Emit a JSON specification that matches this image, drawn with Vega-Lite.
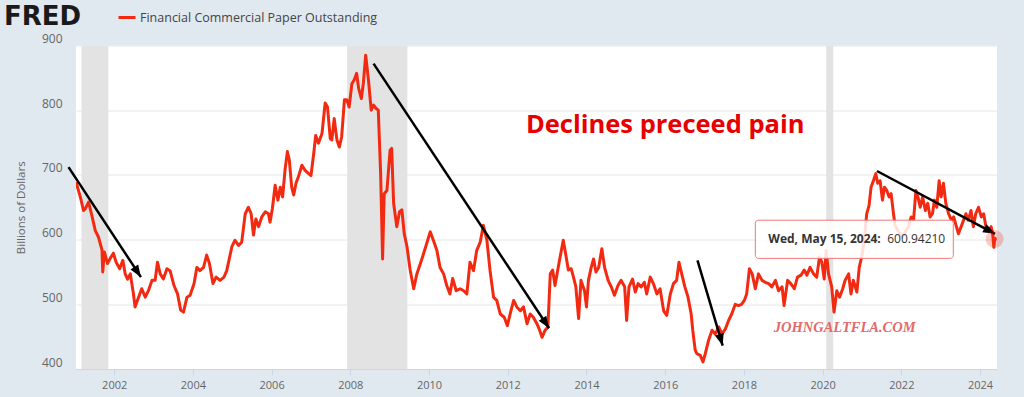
{
  "$schema": "https://vega.github.io/schema/vega-lite/v6.json",
  "width": 921,
  "height": 323.5,
  "autosize": {"type": "none"},
  "padding": {"left": 76, "top": 45.5, "right": 27, "bottom": 28},
  "background": "#e1e9f0",
  "view": {"fill": "white", "stroke": null},
  "title": {"text": "FRED", "anchor": "start", "frame": "group", "font": "DejaVu Sans", "fontSize": 26, "fontWeight": "bold", "color": "#1a1a1a", "baseline": "alphabetic", "offset": 0, "dx": -72, "dy": 43.5},
  "datasets": {
    "series": [
      {"year": 2001.03, "value": 689}, {"year": 2001.14, "value": 666}, {"year": 2001.22, "value": 645}, {"year": 2001.26, "value": 647},
      {"year": 2001.35, "value": 658}, {"year": 2001.43, "value": 638}, {"year": 2001.52, "value": 614}, {"year": 2001.60, "value": 604},
      {"year": 2001.69, "value": 584}, {"year": 2001.71, "value": 550}, {"year": 2001.75, "value": 581}, {"year": 2001.83, "value": 563},
      {"year": 2001.90, "value": 571}, {"year": 2001.98, "value": 579}, {"year": 2002.05, "value": 565}, {"year": 2002.14, "value": 555},
      {"year": 2002.22, "value": 568}, {"year": 2002.28, "value": 547}, {"year": 2002.34, "value": 539}, {"year": 2002.41, "value": 547},
      {"year": 2002.49, "value": 516}, {"year": 2002.53, "value": 496}, {"year": 2002.62, "value": 511}, {"year": 2002.70, "value": 524},
      {"year": 2002.79, "value": 511}, {"year": 2002.87, "value": 521}, {"year": 2002.96, "value": 537}, {"year": 2003.04, "value": 537},
      {"year": 2003.10, "value": 565}, {"year": 2003.17, "value": 547}, {"year": 2003.25, "value": 539}, {"year": 2003.34, "value": 555},
      {"year": 2003.42, "value": 552}, {"year": 2003.52, "value": 529}, {"year": 2003.61, "value": 516}, {"year": 2003.69, "value": 491},
      {"year": 2003.76, "value": 488}, {"year": 2003.85, "value": 511}, {"year": 2003.93, "value": 514}, {"year": 2004.03, "value": 532},
      {"year": 2004.10, "value": 557}, {"year": 2004.18, "value": 552}, {"year": 2004.27, "value": 557}, {"year": 2004.35, "value": 576},
      {"year": 2004.42, "value": 563}, {"year": 2004.51, "value": 532}, {"year": 2004.59, "value": 542}, {"year": 2004.69, "value": 537},
      {"year": 2004.79, "value": 542}, {"year": 2004.86, "value": 552}, {"year": 2004.99, "value": 589}, {"year": 2005.07, "value": 599},
      {"year": 2005.16, "value": 591}, {"year": 2005.24, "value": 596}, {"year": 2005.33, "value": 640}, {"year": 2005.41, "value": 650},
      {"year": 2005.48, "value": 640}, {"year": 2005.54, "value": 607}, {"year": 2005.60, "value": 632}, {"year": 2005.67, "value": 620},
      {"year": 2005.75, "value": 635}, {"year": 2005.84, "value": 643}, {"year": 2005.92, "value": 640}, {"year": 2005.96, "value": 627},
      {"year": 2006.02, "value": 648}, {"year": 2006.09, "value": 684}, {"year": 2006.16, "value": 661}, {"year": 2006.22, "value": 681},
      {"year": 2006.28, "value": 666}, {"year": 2006.34, "value": 707}, {"year": 2006.40, "value": 736}, {"year": 2006.45, "value": 723},
      {"year": 2006.51, "value": 681}, {"year": 2006.56, "value": 669}, {"year": 2006.62, "value": 687}, {"year": 2006.68, "value": 697},
      {"year": 2006.77, "value": 715}, {"year": 2006.85, "value": 707}, {"year": 2006.94, "value": 702}, {"year": 2007.00, "value": 699},
      {"year": 2007.07, "value": 733}, {"year": 2007.12, "value": 761}, {"year": 2007.19, "value": 749}, {"year": 2007.28, "value": 764},
      {"year": 2007.36, "value": 811}, {"year": 2007.42, "value": 805}, {"year": 2007.49, "value": 756}, {"year": 2007.53, "value": 754},
      {"year": 2007.59, "value": 787}, {"year": 2007.66, "value": 754}, {"year": 2007.72, "value": 743}, {"year": 2007.78, "value": 759},
      {"year": 2007.85, "value": 816}, {"year": 2007.91, "value": 816}, {"year": 2007.97, "value": 805}, {"year": 2008.04, "value": 841},
      {"year": 2008.10, "value": 847}, {"year": 2008.16, "value": 857}, {"year": 2008.21, "value": 834}, {"year": 2008.28, "value": 818},
      {"year": 2008.33, "value": 841}, {"year": 2008.39, "value": 885}, {"year": 2008.46, "value": 847}, {"year": 2008.53, "value": 800},
      {"year": 2008.59, "value": 808}, {"year": 2008.65, "value": 803}, {"year": 2008.71, "value": 800}, {"year": 2008.77, "value": 702},
      {"year": 2008.82, "value": 570}, {"year": 2008.86, "value": 671}, {"year": 2008.93, "value": 676}, {"year": 2009.01, "value": 738},
      {"year": 2009.05, "value": 741}, {"year": 2009.10, "value": 656}, {"year": 2009.18, "value": 620}, {"year": 2009.25, "value": 643},
      {"year": 2009.31, "value": 646}, {"year": 2009.37, "value": 609}, {"year": 2009.44, "value": 589}, {"year": 2009.52, "value": 553},
      {"year": 2009.61, "value": 524}, {"year": 2009.69, "value": 547}, {"year": 2009.78, "value": 563}, {"year": 2009.86, "value": 578},
      {"year": 2009.94, "value": 594}, {"year": 2010.03, "value": 612}, {"year": 2010.11, "value": 599}, {"year": 2010.20, "value": 583},
      {"year": 2010.28, "value": 557}, {"year": 2010.37, "value": 547}, {"year": 2010.45, "value": 529}, {"year": 2010.53, "value": 516},
      {"year": 2010.60, "value": 540}, {"year": 2010.69, "value": 521}, {"year": 2010.79, "value": 524}, {"year": 2010.88, "value": 521},
      {"year": 2010.96, "value": 516}, {"year": 2011.04, "value": 565}, {"year": 2011.13, "value": 552}, {"year": 2011.21, "value": 583},
      {"year": 2011.30, "value": 596}, {"year": 2011.38, "value": 622}, {"year": 2011.47, "value": 599}, {"year": 2011.55, "value": 552},
      {"year": 2011.64, "value": 511}, {"year": 2011.72, "value": 506}, {"year": 2011.81, "value": 485}, {"year": 2011.91, "value": 480},
      {"year": 2011.99, "value": 467}, {"year": 2012.08, "value": 490}, {"year": 2012.15, "value": 506}, {"year": 2012.23, "value": 496},
      {"year": 2012.32, "value": 490}, {"year": 2012.40, "value": 496}, {"year": 2012.49, "value": 470}, {"year": 2012.57, "value": 485},
      {"year": 2012.65, "value": 480}, {"year": 2012.74, "value": 470}, {"year": 2012.81, "value": 460}, {"year": 2012.87, "value": 449},
      {"year": 2012.95, "value": 460}, {"year": 2013.02, "value": 465}, {"year": 2013.08, "value": 547}, {"year": 2013.14, "value": 553},
      {"year": 2013.20, "value": 529}, {"year": 2013.27, "value": 553}, {"year": 2013.33, "value": 573}, {"year": 2013.41, "value": 599},
      {"year": 2013.47, "value": 578}, {"year": 2013.54, "value": 553}, {"year": 2013.61, "value": 555}, {"year": 2013.67, "value": 542},
      {"year": 2013.73, "value": 527}, {"year": 2013.80, "value": 478}, {"year": 2013.86, "value": 537}, {"year": 2013.95, "value": 521},
      {"year": 2014.00, "value": 496}, {"year": 2014.05, "value": 537}, {"year": 2014.12, "value": 557}, {"year": 2014.18, "value": 570},
      {"year": 2014.24, "value": 550}, {"year": 2014.31, "value": 557}, {"year": 2014.39, "value": 586}, {"year": 2014.46, "value": 557},
      {"year": 2014.55, "value": 537}, {"year": 2014.63, "value": 527}, {"year": 2014.71, "value": 514}, {"year": 2014.80, "value": 529},
      {"year": 2014.88, "value": 537}, {"year": 2014.97, "value": 527}, {"year": 2015.02, "value": 475}, {"year": 2015.08, "value": 527},
      {"year": 2015.17, "value": 539}, {"year": 2015.24, "value": 519}, {"year": 2015.31, "value": 532}, {"year": 2015.39, "value": 527},
      {"year": 2015.47, "value": 534}, {"year": 2015.53, "value": 516}, {"year": 2015.62, "value": 542}, {"year": 2015.70, "value": 532},
      {"year": 2015.79, "value": 516}, {"year": 2015.87, "value": 524}, {"year": 2015.96, "value": 490}, {"year": 2016.04, "value": 483},
      {"year": 2016.13, "value": 516}, {"year": 2016.21, "value": 532}, {"year": 2016.29, "value": 537}, {"year": 2016.35, "value": 565},
      {"year": 2016.42, "value": 547}, {"year": 2016.50, "value": 527}, {"year": 2016.58, "value": 511}, {"year": 2016.66, "value": 485},
      {"year": 2016.70, "value": 460}, {"year": 2016.76, "value": 430}, {"year": 2016.80, "value": 424}, {"year": 2016.89, "value": 421},
      {"year": 2016.96, "value": 411}, {"year": 2017.02, "value": 424}, {"year": 2017.10, "value": 444}, {"year": 2017.19, "value": 460},
      {"year": 2017.27, "value": 454}, {"year": 2017.36, "value": 465}, {"year": 2017.44, "value": 454}, {"year": 2017.53, "value": 462},
      {"year": 2017.61, "value": 475}, {"year": 2017.69, "value": 485}, {"year": 2017.78, "value": 500}, {"year": 2017.86, "value": 498},
      {"year": 2017.94, "value": 500}, {"year": 2018.01, "value": 506}, {"year": 2018.07, "value": 516}, {"year": 2018.14, "value": 555},
      {"year": 2018.21, "value": 547}, {"year": 2018.29, "value": 524}, {"year": 2018.37, "value": 547}, {"year": 2018.46, "value": 537},
      {"year": 2018.54, "value": 534}, {"year": 2018.63, "value": 532}, {"year": 2018.71, "value": 527}, {"year": 2018.80, "value": 537},
      {"year": 2018.88, "value": 521}, {"year": 2018.97, "value": 527}, {"year": 2019.02, "value": 498}, {"year": 2019.11, "value": 537},
      {"year": 2019.19, "value": 532}, {"year": 2019.28, "value": 524}, {"year": 2019.36, "value": 542}, {"year": 2019.45, "value": 545},
      {"year": 2019.53, "value": 553}, {"year": 2019.60, "value": 545}, {"year": 2019.68, "value": 557}, {"year": 2019.77, "value": 547},
      {"year": 2019.85, "value": 542}, {"year": 2019.92, "value": 573}, {"year": 2019.98, "value": 565}, {"year": 2020.04, "value": 539},
      {"year": 2020.09, "value": 583}, {"year": 2020.15, "value": 547}, {"year": 2020.23, "value": 527}, {"year": 2020.29, "value": 488},
      {"year": 2020.36, "value": 521}, {"year": 2020.43, "value": 511}, {"year": 2020.51, "value": 524}, {"year": 2020.57, "value": 537},
      {"year": 2020.66, "value": 547}, {"year": 2020.72, "value": 516}, {"year": 2020.78, "value": 537}, {"year": 2020.87, "value": 519},
      {"year": 2020.93, "value": 557}, {"year": 2020.99, "value": 573}, {"year": 2021.06, "value": 599}, {"year": 2021.12, "value": 640},
      {"year": 2021.18, "value": 653}, {"year": 2021.23, "value": 681}, {"year": 2021.29, "value": 691}, {"year": 2021.35, "value": 702},
      {"year": 2021.40, "value": 687}, {"year": 2021.46, "value": 691}, {"year": 2021.52, "value": 661}, {"year": 2021.57, "value": 681},
      {"year": 2021.63, "value": 676}, {"year": 2021.69, "value": 666}, {"year": 2021.74, "value": 671}, {"year": 2021.80, "value": 640},
      {"year": 2021.84, "value": 622}, {"year": 2021.91, "value": 614}, {"year": 2021.97, "value": 609}, {"year": 2022.03, "value": 604},
      {"year": 2022.10, "value": 612}, {"year": 2022.18, "value": 620}, {"year": 2022.25, "value": 635}, {"year": 2022.31, "value": 630},
      {"year": 2022.37, "value": 676}, {"year": 2022.42, "value": 666}, {"year": 2022.48, "value": 650}, {"year": 2022.54, "value": 666},
      {"year": 2022.61, "value": 645}, {"year": 2022.67, "value": 656}, {"year": 2022.73, "value": 635}, {"year": 2022.79, "value": 640},
      {"year": 2022.84, "value": 661}, {"year": 2022.90, "value": 650}, {"year": 2022.96, "value": 691}, {"year": 2023.01, "value": 666},
      {"year": 2023.07, "value": 687}, {"year": 2023.13, "value": 656}, {"year": 2023.20, "value": 640}, {"year": 2023.27, "value": 630},
      {"year": 2023.33, "value": 635}, {"year": 2023.39, "value": 622}, {"year": 2023.45, "value": 609}, {"year": 2023.52, "value": 620},
      {"year": 2023.58, "value": 630}, {"year": 2023.64, "value": 640}, {"year": 2023.70, "value": 630}, {"year": 2023.77, "value": 645},
      {"year": 2023.83, "value": 620}, {"year": 2023.89, "value": 640}, {"year": 2023.96, "value": 650}, {"year": 2024.03, "value": 635},
      {"year": 2024.09, "value": 640}, {"year": 2024.15, "value": 620}, {"year": 2024.22, "value": 614}, {"year": 2024.28, "value": 620},
      {"year": 2024.32, "value": 609}, {"year": 2024.35, "value": 588}, {"year": 2024.37, "value": 600.9421}
    ],
    "recessions": [
      {"start": 2001.17, "end": 2001.85},
      {"start": 2007.92, "end": 2009.45},
      {"start": 2020.09, "end": 2020.27}
    ],
    "arrows": [
      {"arrow": "a1", "x1": 2000.84, "y1": 712, "x2": 2002.68, "y2": 542},
      {"arrow": "a2", "x1": 2008.59, "y1": 872, "x2": 2013.05, "y2": 463},
      {"arrow": "a3", "x1": 2016.82, "y1": 568, "x2": 2017.46, "y2": 436},
      {"arrow": "a4", "x1": 2021.38, "y1": 706, "x2": 2024.38, "y2": 609}
    ]
  },
  "layer": [
    {
      "data": {"name": "recessions"},
      "mark": {"type": "rect", "color": "#e3e3e3"},
      "encoding": {
        "x": {"field": "start", "type": "quantitative", "scale": {"domain": [2001.03, 2024.43], "nice": false, "zero": false}},
        "x2": {"field": "end"}
      }
    },
    {
      "data": {"name": "series"},
      "mark": {"type": "line", "strokeWidth": 3, "strokeJoin": "round", "clip": true},
      "encoding": {
        "x": {
          "field": "year", "type": "quantitative",
          "scale": {"domain": [2001.03, 2024.43], "nice": false, "zero": false},
          "axis": {"title": null, "values": [2002, 2004, 2006, 2008, 2010, 2012, 2014, 2016, 2018, 2020, 2022, 2024], "format": "d", "grid": false,
            "labelFont": "Open Sans", "labelFontSize": 11, "labelColor": "#666666", "labelPadding": 4,
            "domainColor": "#ccd6eb", "tickColor": "#ccd6eb", "tickSize": 6}
        },
        "y": {
          "field": "value", "type": "quantitative",
          "scale": {"domain": [400, 900], "nice": false, "zero": false},
          "axis": {"title": "Billions of Dollars", "values": [400, 500, 600, 700, 800, 900], "grid": true, "gridColor": "#e6e6e6",
            "domain": false, "ticks": false, "labelFont": "Open Sans", "labelFontSize": 12, "labelColor": "#666666", "labelPadding": 14,
            "labelBaseline": "alphabetic", "labelOffset": -3,
            "titleFont": "Open Sans", "titleFontSize": 11.5, "titleFontWeight": "normal", "titleColor": "#666666", "titlePadding": 15}
        },
        "color": {
          "datum": "Financial Commercial Paper Outstanding",
          "scale": {"range": ["#f32a12"]},
          "legend": {"orient": "none", "legendX": 41, "legendY": -38, "title": null, "symbolType": "stroke", "symbolStrokeWidth": 3,
            "symbolSize": 289, "labelFont": "Open Sans", "labelFontSize": 12.5, "labelColor": "#444444", "labelOffset": 3, "labelLimit": 500}
        }
      }
    },
    {
      "data": {"name": "arrows"},
      "mark": {"type": "rule", "color": "black", "strokeWidth": 2.5},
      "encoding": {
        "x": {"field": "x1", "type": "quantitative"},
        "x2": {"field": "x2"},
        "y": {"field": "y1", "type": "quantitative"},
        "y2": {"field": "y2"}
      }
    },
    {
      "data": {"name": "arrows"},
      "mark": {"type": "point", "shape": "M0,0L-0.38,1L0.38,1Z", "filled": true, "color": "black", "opacity": 1, "size": 576},
      "encoding": {
        "x": {"field": "x2", "type": "quantitative"},
        "y": {"field": "y2", "type": "quantitative"},
        "angle": {"field": "arrow", "type": "nominal", "scale": {"type": "ordinal", "domain": ["a1", "a2", "a3", "a4"], "range": [146.6, 146.4, 163.4, 117.8]}, "legend": null}
      }
    },
    {
      "data": {"values": [{"year": 2016.0, "value": 764, "label": "Declines preceed pain"}]},
      "mark": {"type": "text", "font": "Open Sans", "fontSize": 25.5, "fontWeight": "bold", "color": "#e60000", "align": "center", "baseline": "alphabetic"},
      "encoding": {
        "x": {"field": "year", "type": "quantitative"},
        "y": {"field": "value", "type": "quantitative"},
        "text": {"field": "label"}
      }
    },
    {
      "data": {"values": [{"year": 2020.56, "value": 456.5, "label": "JOHNGALTFLA.COM"}]},
      "mark": {"type": "text", "font": "Liberation Serif", "fontSize": 14.5, "fontStyle": "italic", "fontWeight": "bold", "color": "#e36a6a", "align": "center", "baseline": "alphabetic"},
      "encoding": {
        "x": {"field": "year", "type": "quantitative"},
        "y": {"field": "value", "type": "quantitative"},
        "text": {"field": "label"}
      }
    },
    {
      "data": {"values": [{"x1": 2018.29, "x2": 2023.32, "y1": 630, "y2": 571}]},
      "mark": {"type": "rect", "fill": "white", "fillOpacity": 0.85, "stroke": "#ee7777", "strokeWidth": 1, "cornerRadius": 3},
      "encoding": {
        "x": {"field": "x1", "type": "quantitative"},
        "x2": {"field": "x2"},
        "y": {"field": "y1", "type": "quantitative"},
        "y2": {"field": "y2"}
      }
    },
    {
      "data": {"values": [{"year": 2018.62, "value": 595, "label": "Wed, May 15, 2024:"}]},
      "mark": {"type": "text", "font": "Open Sans", "fontSize": 12, "fontWeight": "bold", "color": "#333333", "align": "left", "baseline": "alphabetic"},
      "encoding": {
        "x": {"field": "year", "type": "quantitative"},
        "y": {"field": "value", "type": "quantitative"},
        "text": {"field": "label"}
      }
    },
    {
      "data": {"values": [{"year": 2021.64, "value": 595, "label": "600.94210"}]},
      "mark": {"type": "text", "font": "Open Sans", "fontSize": 12, "color": "#333333", "align": "left", "baseline": "alphabetic"},
      "encoding": {
        "x": {"field": "year", "type": "quantitative"},
        "y": {"field": "value", "type": "quantitative"},
        "text": {"field": "label"}
      }
    },
    {
      "data": {"values": [{"year": 2024.37, "value": 600.9421}]},
      "mark": {"type": "point", "filled": true, "color": "#f32a12", "opacity": 0.25, "size": 320},
      "encoding": {
        "x": {"field": "year", "type": "quantitative"},
        "y": {"field": "value", "type": "quantitative"}
      }
    },
    {
      "data": {"values": [{"year": 2024.37, "value": 600.9421}]},
      "mark": {"type": "point", "filled": true, "color": "#f32a12", "opacity": 1, "size": 20},
      "encoding": {
        "x": {"field": "year", "type": "quantitative"},
        "y": {"field": "value", "type": "quantitative"}
      }
    }
  ]
}
